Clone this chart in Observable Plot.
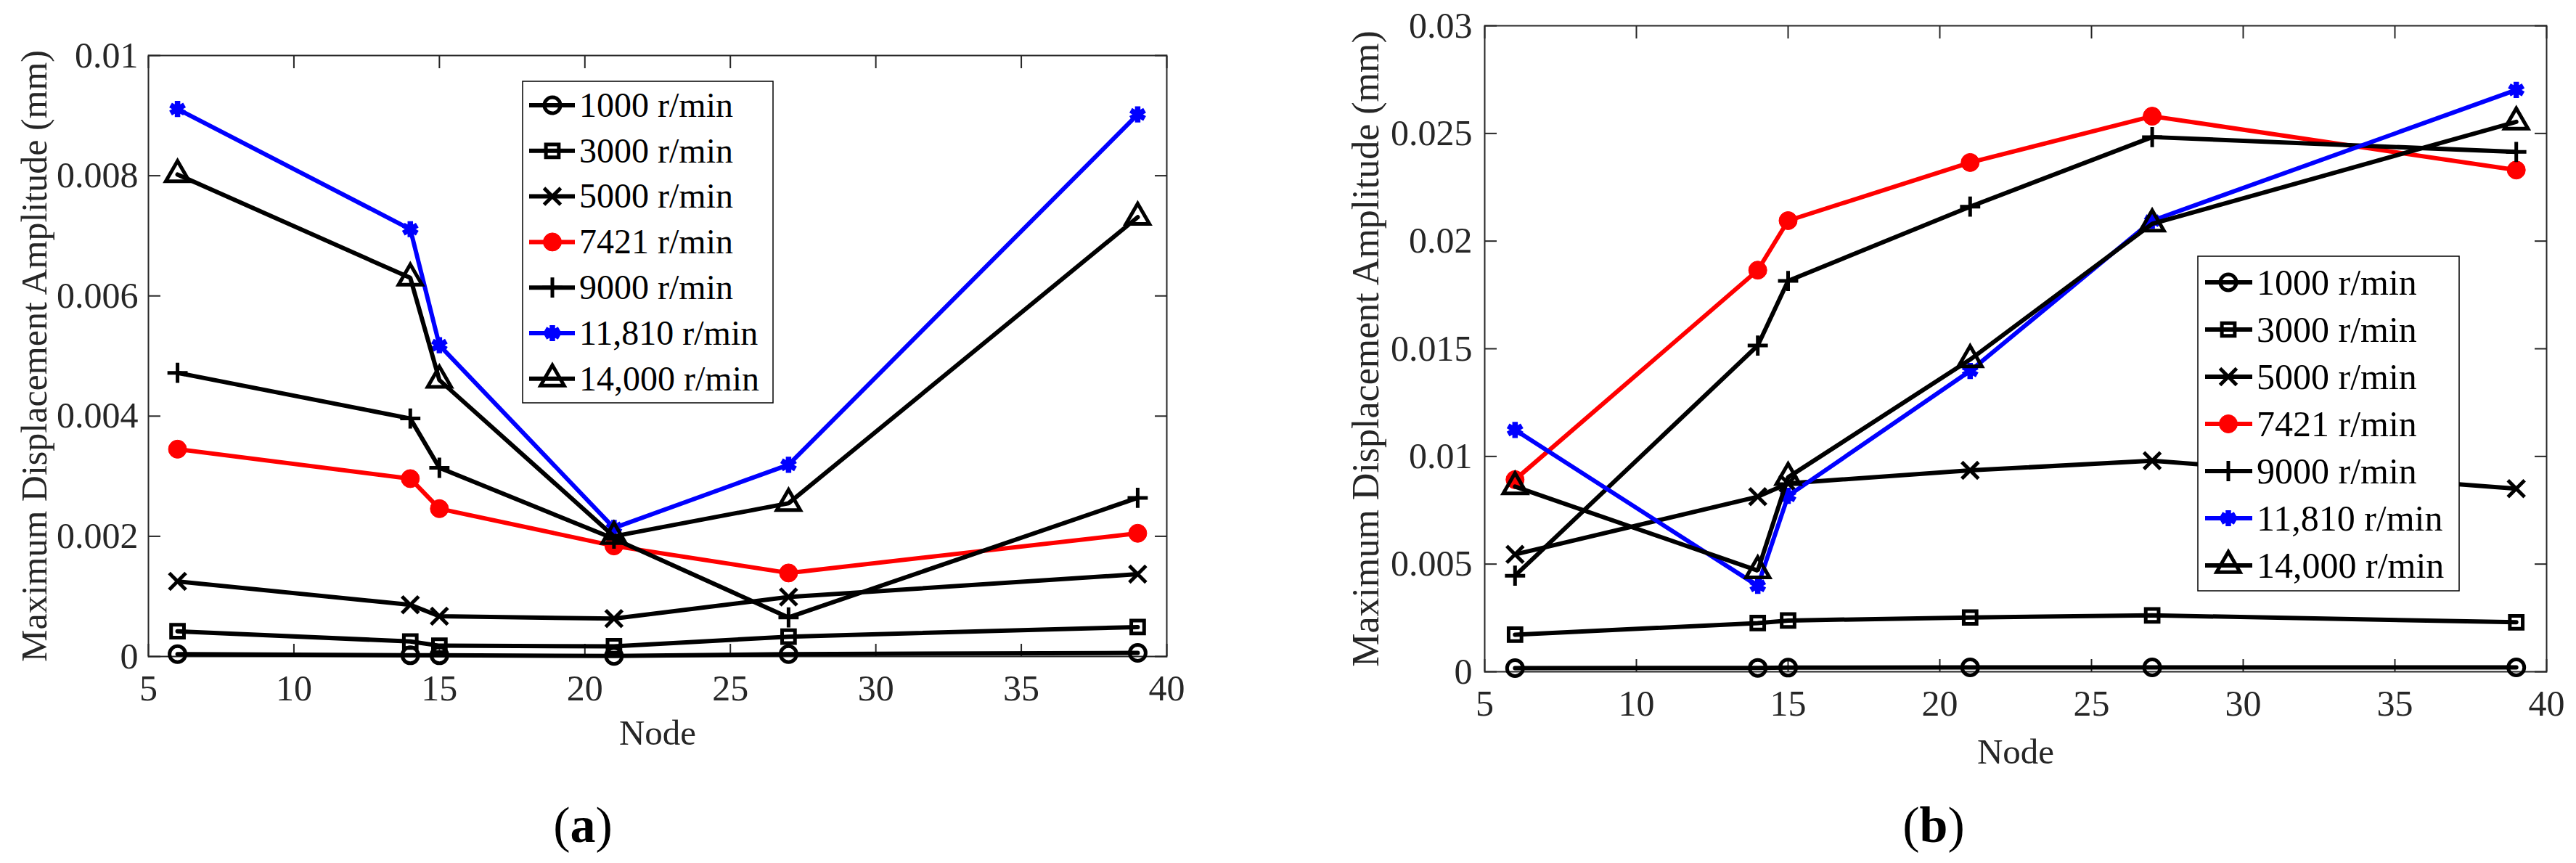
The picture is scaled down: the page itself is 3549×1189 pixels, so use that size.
<!DOCTYPE html>
<html><head><meta charset="utf-8">
<script src="https://cdn.jsdelivr.net/npm/d3@7"></script>
<script src="https://cdn.jsdelivr.net/npm/@observablehq/plot@0.6"></script>
<style>
html,body{margin:0;padding:0;background:#fff;}
#root{position:relative;width:3549px;height:1189px;overflow:hidden;font-family:"Liberation Serif","Times New Roman",serif;background:#fff;}
.panel{position:absolute;top:0;}
.panel svg{max-width:none !important;}
.cap{position:absolute;font-size:70px;color:#000;transform:translate(-50%,-50%);white-space:nowrap;line-height:1;}
#overlay{position:absolute;left:0;top:0;pointer-events:none;}
</style></head>
<body><div id="root"></div>
<script>
// ---------- data ----------
const nodes = [6, 14, 15, 21, 27, 39];
const seriesNames = ["1000 r/min", "3000 r/min", "5000 r/min", "7421 r/min", "9000 r/min", "11,810 r/min", "14,000 r/min"];

// panel (a)
const a1000  = [0.00004, 0.00002, 0.00002, 0.00001, 0.00004, 0.00006];
const a3000  = [0.00042, 0.00025, 0.00018, 0.00017, 0.00033, 0.00049];
const a5000  = [0.00125, 0.00086, 0.00067, 0.00063, 0.00099, 0.00137];
const a7421  = [0.00345, 0.00296, 0.00246, 0.00184, 0.00139, 0.00205];
const a9000  = [0.00472, 0.00396, 0.00314, 0.00196, 0.00065, 0.00264];
const a11810 = [0.00911, 0.00711, 0.00518, 0.00214, 0.00319, 0.00902];
const a14000 = [0.00802, 0.00630, 0.00460, 0.00200, 0.00255, 0.00731];

// panel (b)
const b1000  = [0.00017, 0.00018, 0.00019, 0.00020, 0.00020, 0.00020];
const b3000  = [0.00172, 0.00226, 0.00238, 0.00252, 0.00262, 0.00230];
const b5000  = [0.00545, 0.00813, 0.00875, 0.00935, 0.00980, 0.00850];
const b7421  = [0.00892, 0.01865, 0.02095, 0.02365, 0.02580, 0.02330];
const b9000  = [0.00446, 0.01515, 0.01815, 0.02160, 0.02483, 0.02414];
const b11810 = [0.01123, 0.00399, 0.00817, 0.01397, 0.02095, 0.02702];
const b14000 = [0.00860, 0.00470, 0.00903, 0.01450, 0.02080, 0.02554];

const xTicks = [5, 10, 15, 20, 25, 30, 35, 40];
const xTickLabels = ["5", "10", "15", "20", "25", "30", "35", "40"];
const yTicksA = [0, 0.002, 0.004, 0.006, 0.008, 0.01];
const yTickLabelsA = ["0", "0.002", "0.004", "0.006", "0.008", "0.01"];
const yTicksB = [0, 0.005, 0.01, 0.015, 0.02, 0.025, 0.03];
const yTickLabelsB = ["0", "0.005", "0.01", "0.015", "0.02", "0.025", "0.03"];

const xLabel = "Node";
const yLabel = "Maximum Displacement Amplitude (mm)";
const captions = ["a", "b"];

// ---------- styles ----------
const INK = "#262626";
const LW = 6;
const seriesStyle = [
  {color: "#000", symbol: "circle", r: 11, fill: "none", mw: 5},
  {color: "#000", symbol: "square", r: 10, fill: "none", mw: 5},
  {color: "#000", symbol: "times", r: 10.5, fill: "none", mw: 5},
  {color: "#ff0000", symbol: "circle", r: 12.5, fill: "#ff0000", mw: 1},
  {color: "#000", symbol: "plus", r: 9, fill: "none", mw: 5},
  {color: "#0000ff", symbol: "asterisk", r: 10.5, fill: "none", mw: 7.5},
  {color: "#000", symbol: "triangle", r: 12, fill: "none", mw: 5}
];

function panel(cfg) {
  const rows = [];
  cfg.values.forEach((vals, k) => vals.forEach((v, j) => rows.push({k, series: seriesNames[k], node: nodes[j], value: v})));
  const fmtY = d => cfg.yTickLabels[cfg.yTicks.findIndex(t => Math.abs(t - d) < 1e-12)];
  const fmtX = d => xTickLabels[xTicks.indexOf(d)];
  const marks = [
    Plot.axisX(xTicks, {anchor: "bottom", tickSize: -17, tickPadding: 42, tickFormat: fmtX, color: INK, strokeWidth: 2, fontSize: 50, label: null}),
    Plot.axisX(xTicks, {anchor: "top", tickSize: -17, tickFormat: () => "", color: INK, strokeWidth: 2, label: null}),
    Plot.axisY(cfg.yTicks, {anchor: "left", tickSize: -17, tickPadding: cfg.yPad, tickFormat: fmtY, color: INK, strokeWidth: 2, fontSize: 50, label: null}),
    Plot.axisY(cfg.yTicks, {anchor: "right", tickSize: -17, tickFormat: () => "", color: INK, strokeWidth: 2, label: null}),
    Plot.frame({stroke: INK, strokeWidth: 2})
  ];
  seriesStyle.forEach((s, k) => {
    const d = rows.filter(r => r.k === k);
    marks.push(Plot.line(d, {x: "node", y: "value", stroke: s.color, strokeWidth: LW, strokeLinejoin: "miter"}));
    marks.push(Plot.dot(d, {x: "node", y: "value", symbol: s.symbol, r: s.r, stroke: s.color, fill: s.fill, strokeWidth: s.mw}));
  });
  marks.push(Plot.text([xLabel], {text: d => d, frameAnchor: "bottom", dy: cfg.nodeDy, lineAnchor: "middle", textAnchor: "middle", fontSize: 49, fill: INK}));
  marks.push(Plot.text([yLabel], {text: d => d, frameAnchor: "left", rotate: -90, dx: cfg.yLabelDx, lineAnchor: "middle", textAnchor: "middle", fontSize: cfg.yLabelSize, fill: INK}));
  return Plot.plot({
    width: cfg.width, height: 1189,
    marginLeft: cfg.ml, marginRight: cfg.mr, marginTop: cfg.mt, marginBottom: cfg.mb,
    x: {domain: [5, 40], label: null},
    y: {domain: [0, cfg.yMax], label: null},
    style: {fontFamily: '"Liberation Serif", "Times New Roman", serif', fontSize: "50px", background: "white", color: INK},
    marks
  });
}

const root = document.getElementById("root");
const panels = [
  {left: 0, width: 1780, ml: 204, mr: 173, mt: 76, mb: 285, yMax: 0.01, yTicks: yTicksA, yTickLabels: yTickLabelsA, yPad: 31,
   values: [a1000, a3000, a5000, a7421, a9000, a11810, a14000], nodeDy: 106, yLabelDx: -157, yLabelSize: 50},
  {left: 1780, width: 1769, ml: 265, mr: 41, mt: 35, mb: 264, yMax: 0.03, yTicks: yTicksB, yTickLabels: yTickLabelsB, yPad: 34,
   values: [b1000, b3000, b5000, b7421, b9000, b11810, b14000], nodeDy: 111, yLabelDx: -163, yLabelSize: 52}
];
panels.forEach(cfg => {
  const div = document.createElement("div");
  div.className = "panel";
  div.style.left = cfg.left + "px";
  div.appendChild(panel(cfg));
  root.appendChild(div);
});

// captions (a) (b)
const capPos = [[803, 1137], [2664, 1137]];
captions.forEach((c, i) => {
  const el = document.createElement("div");
  el.className = "cap";
  el.style.left = capPos[i][0] + "px";
  el.style.top = capPos[i][1] + "px";
  el.innerHTML = "(<b>" + c + "</b>)";
  root.appendChild(el);
});

// legends
const legends = [
  {box: [720, 112, 1065, 555], y0: 145, dy: 62.8, x1: 729, x2: 792, xm: 761, xt: 798, fs: 48},
  {box: [3028, 353, 3388, 814], y0: 389, dy: 65, x1: 3038, x2: 3103, xm: 3070, xt: 3109, fs: 50}
];
const svg = d3.select(root).append("svg").attr("id", "overlay").attr("width", 3549).attr("height", 1189);
const symMap = {circle: d3.symbolCircle, square: d3.symbolSquare, times: d3.symbolTimes, plus: d3.symbolPlus, asterisk: d3.symbolAsterisk, triangle: d3.symbolTriangle};
legends.forEach(L => {
  const g = svg.append("g");
  g.append("rect").attr("x", L.box[0]).attr("y", L.box[1]).attr("width", L.box[2] - L.box[0]).attr("height", L.box[3] - L.box[1])
    .attr("fill", "white").attr("stroke", "#000").attr("stroke-width", 1.5);
  seriesNames.forEach((name, k) => {
    const s = seriesStyle[k];
    const y = L.y0 + k * L.dy;
    g.append("line").attr("x1", L.x1).attr("x2", L.x2).attr("y1", y).attr("y2", y).attr("stroke", s.color).attr("stroke-width", LW);
    g.append("path").attr("transform", `translate(${L.xm},${y})`)
      .attr("d", d3.symbol(symMap[s.symbol], Math.PI * s.r * s.r)())
      .attr("fill", s.fill).attr("stroke", s.color).attr("stroke-width", s.mw);
    g.append("text").attr("x", L.xt).attr("y", y).attr("dy", "0.33em").attr("font-size", L.fs)
      .attr("font-family", '"Liberation Serif", "Times New Roman", serif').attr("fill", "#000").text(name);
  });
});
</script>
</body></html>
